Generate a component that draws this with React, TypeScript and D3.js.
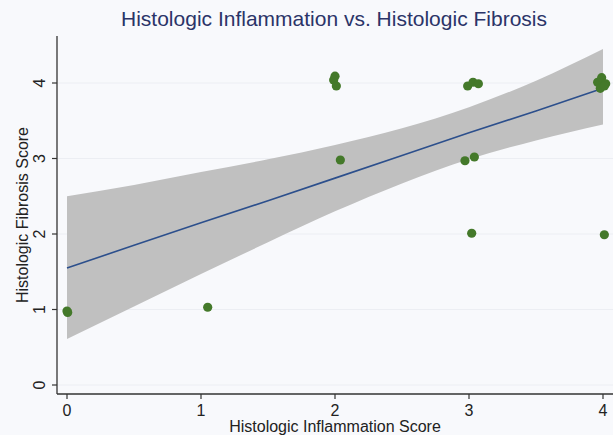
import React, { useEffect, useRef } from 'react';
import * as d3 from 'd3';

// scatter points (jittered scores as plotted)
const inflammation = [0, 0.005, 1.05, 2.0, 1.99, 2.01, 2.04, 2.99, 3.03, 3.07, 2.97, 3.04, 3.02, 3.96, 3.99, 4.02, 3.98, 4.01, 4.01];
const fibrosis = [0.98, 0.96, 1.03, 4.09, 4.04, 3.96, 2.98, 3.96, 4.01, 3.99, 2.97, 3.02, 2.01, 4.01, 4.07, 3.99, 3.93, 3.96, 1.99];

// fitted line with 95% CI
const fitX = [0, 0.5, 1, 1.5, 2, 2.5, 3, 3.5, 4];
const fitY = [1.55, 1.85, 2.15, 2.44, 2.74, 3.04, 3.34, 3.63, 3.93];
const fitLow = [0.61, 1.04, 1.47, 1.89, 2.3, 2.67, 2.99, 3.24, 3.45];
const fitHigh = [2.5, 2.65, 2.82, 2.99, 3.18, 3.4, 3.68, 4.03, 4.45];

const ticks = [0, 1, 2, 3, 4];

const FONT = '"Liberation Sans", Arial, Helvetica, sans-serif';

function App() {
  const ref = useRef<SVGSVGElement>(null);

  useEffect(() => {
    const svg = d3.select(ref.current);
    svg.selectAll('*').remove();

    const W = 613;
    const H = 435;
    const left = 57;
    const top = 36;
    const bottom = 394;
    const right = 613;

    const x = d3.scaleLinear().domain([0, 4]).range([67, 603]);
    const y = d3.scaleLinear().domain([0, 4]).range([385, 83]);

    svg.append('rect').attr('width', W).attr('height', H).attr('fill', '#f8f9fc');

    // grid
    svg.append('g')
      .selectAll('line')
      .data(ticks)
      .enter()
      .append('line')
      .attr('x1', left)
      .attr('x2', right)
      .attr('y1', d => y(d))
      .attr('y2', d => y(d))
      .attr('stroke', '#eceef3')
      .attr('stroke-width', 1);

    const fit = fitX.map((v, i) => ({ x: v, y: fitY[i], lo: fitLow[i], hi: fitHigh[i] }));

    const band = d3.area<any>()
      .x(d => x(d.x))
      .y0(d => y(d.lo))
      .y1(d => y(d.hi))
      .curve(d3.curveMonotoneX);

    svg.append('path').datum(fit).attr('d', band).attr('fill', '#c0c0c0');

    const line = d3.line<any>()
      .x(d => x(d.x))
      .y(d => y(d.y));

    svg.append('path')
      .datum(fit)
      .attr('d', line)
      .attr('fill', 'none')
      .attr('stroke', '#2c4f8c')
      .attr('stroke-width', 1.6);

    svg.append('g')
      .selectAll('circle')
      .data(inflammation.map((v, i) => [v, fibrosis[i]]))
      .enter()
      .append('circle')
      .attr('cx', d => x(d[0]))
      .attr('cy', d => y(d[1]))
      .attr('r', 4.6)
      .attr('fill', '#44792a');

    // axes
    svg.append('line')
      .attr('x1', left).attr('x2', left)
      .attr('y1', top).attr('y2', bottom)
      .attr('stroke', '#333').attr('stroke-width', 1.3);
    svg.append('line')
      .attr('x1', left).attr('x2', right)
      .attr('y1', bottom).attr('y2', bottom)
      .attr('stroke', '#333').attr('stroke-width', 1.3);

    const yt = svg.append('g');
    ticks.forEach(t => {
      yt.append('line')
        .attr('x1', left - 5).attr('x2', left)
        .attr('y1', y(t)).attr('y2', y(t))
        .attr('stroke', '#333').attr('stroke-width', 1.2);
      yt.append('text')
        .attr('transform', `translate(45,${y(t)}) rotate(-90)`)
        .attr('text-anchor', 'middle')
        .attr('font-family', FONT)
        .attr('font-size', 16)
        .attr('fill', '#222')
        .text(t);
    });

    const xt = svg.append('g');
    ticks.forEach(t => {
      xt.append('line')
        .attr('x1', x(t)).attr('x2', x(t))
        .attr('y1', bottom).attr('y2', bottom + 5)
        .attr('stroke', '#333').attr('stroke-width', 1.2);
      xt.append('text')
        .attr('x', x(t))
        .attr('y', 416)
        .attr('text-anchor', 'middle')
        .attr('font-family', FONT)
        .attr('font-size', 16)
        .attr('fill', '#222')
        .text(t);
    });

    svg.append('text')
      .attr('x', (left + right) / 2)
      .attr('y', 432)
      .attr('text-anchor', 'middle')
      .attr('font-family', FONT)
      .attr('font-size', 16)
      .attr('fill', '#222')
      .text('Histologic Inflammation Score');

    svg.append('text')
      .attr('transform', `translate(28,${(top + bottom) / 2}) rotate(-90)`)
      .attr('text-anchor', 'middle')
      .attr('font-family', FONT)
      .attr('font-size', 16)
      .attr('fill', '#222')
      .text('Histologic Fibrosis Score');

    svg.append('text')
      .attr('x', 334)
      .attr('y', 26)
      .attr('text-anchor', 'middle')
      .attr('font-family', FONT)
      .attr('font-size', 21)
      .attr('fill', '#2b3468')
      .text('Histologic Inflammation vs. Histologic Fibrosis');
  }, []);

  return (
    <svg
      ref={ref}
      width={613}
      height={435}
      style={{ position: 'absolute', left: 0, top: 0, display: 'block' }}
    />
  );
}

export default App;
